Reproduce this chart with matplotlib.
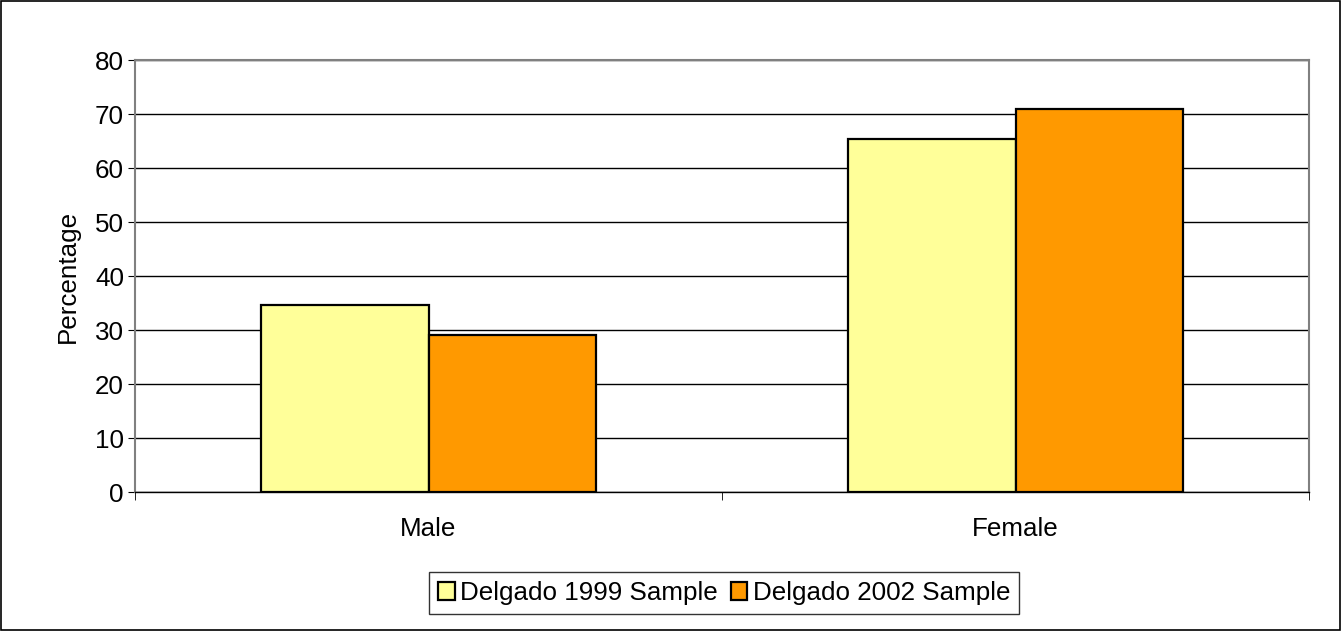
import numpy as np
import matplotlib
matplotlib.use("Agg")
import matplotlib.pyplot as plt
from matplotlib.patches import Rectangle

plt.rcParams["font.family"] = ["Liberation Sans", "DejaVu Sans"]

categories = ["Male", "Female"]
series_names = ["Delgado 1999 Sample", "Delgado 2002 Sample"]
sample_1999 = [34.7, 65.4]
sample_2002 = [29.1, 70.9]
colors = ["#FFFF99", "#FF9900"]

fs = 18.7

fig = plt.figure(figsize=(13.43, 6.31), dpi=100)
ax = fig.add_axes([135 / 1343, 1 - 492 / 631, 1174 / 1343, 432 / 631])

x = np.arange(len(categories))
w = 0.286
ax.bar(x - w / 2, sample_1999, w, color=colors[0], edgecolor="black", linewidth=1.6,
       label=series_names[0], zorder=3)
ax.bar(x + w / 2, sample_2002, w, color=colors[1], edgecolor="black", linewidth=1.6,
       label=series_names[1], zorder=3)

ax.set_xlim(-0.5, 1.5)
ax.set_ylim(0, 80)
ax.set_yticks(range(0, 81, 10))
ax.yaxis.grid(True, color="black", linewidth=1.0, zorder=0)
ax.set_xticks(x)
ax.set_xticklabels(categories)
ax.set_xticks([-0.5, 0.5, 1.5], minor=True)
ax.tick_params(axis="x", which="major", length=0, pad=18, labelsize=fs)
ax.tick_params(axis="x", which="minor", length=6, direction="out", color="black")
ax.tick_params(axis="y", length=5, direction="out", labelsize=fs, pad=3)
ax.set_ylabel("Percentage", fontsize=fs, labelpad=11)

for side in ["top", "right", "left"]:
    ax.spines[side].set_color("#808080")
    ax.spines[side].set_linewidth(1.5)
ax.spines["bottom"].set_color("black")
ax.spines["bottom"].set_linewidth(1.0)

leg = ax.legend(loc="center", bbox_to_anchor=(724 / 1343, 1 - 593 / 631),
                bbox_transform=fig.transFigure, ncol=2, fontsize=fs,
                frameon=True, fancybox=False, edgecolor="black",
                handlelength=0.65, handleheight=0.65, handletextpad=0.2,
                columnspacing=0.5, borderpad=0.35, borderaxespad=0)
leg.get_frame().set_linewidth(1.0)

fig.patches.append(Rectangle((0.001, 0.002), 0.997, 0.996, transform=fig.transFigure,
                             fill=False, edgecolor="black", linewidth=1.2))

fig.savefig("out.png", dpi=100)
